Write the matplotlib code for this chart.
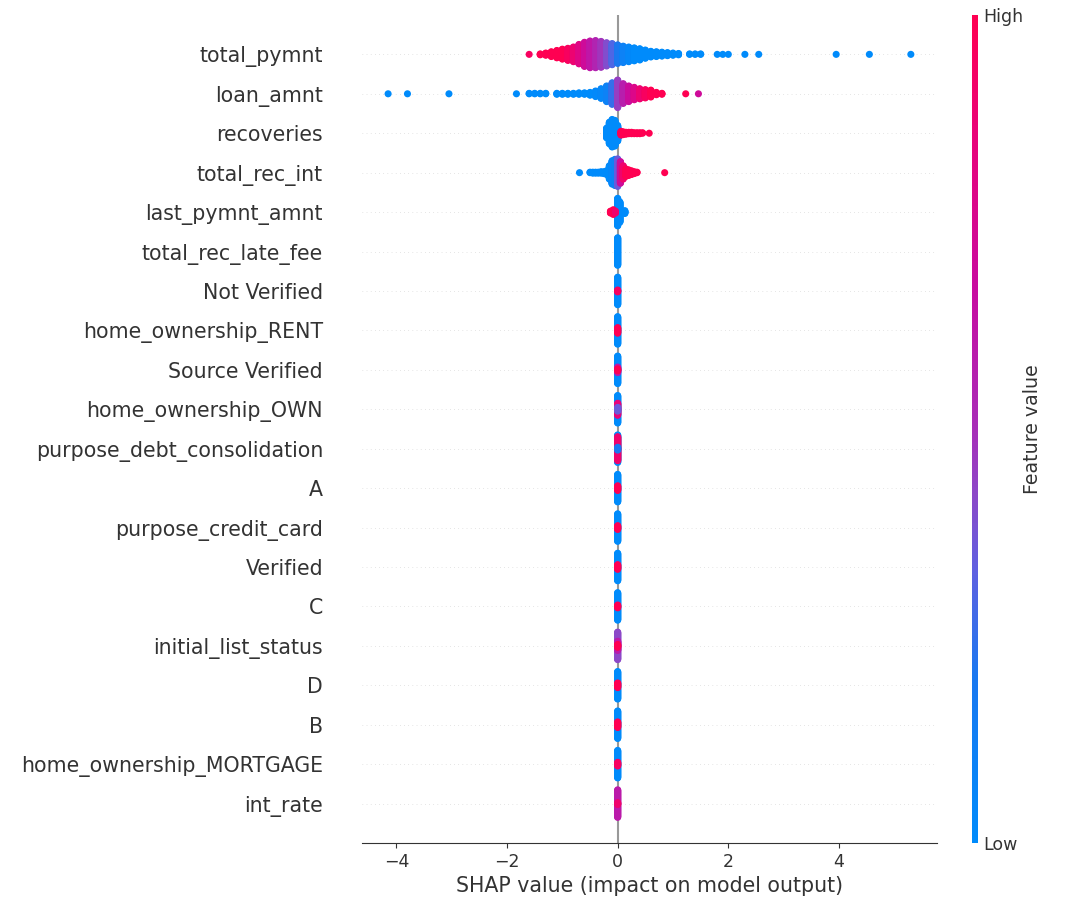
import numpy as np
import matplotlib
matplotlib.use('Agg')
import matplotlib.pyplot as plt
from matplotlib.colors import LinearSegmentedColormap
from matplotlib.cm import ScalarMappable

features = ['total_pymnt', 'loan_amnt', 'recoveries', 'total_rec_int', 'last_pymnt_amnt',
            'total_rec_late_fee', 'Not Verified', 'home_ownership_RENT', 'Source Verified',
            'home_ownership_OWN', 'purpose_debt_consolidation', 'A', 'purpose_credit_card',
            'Verified', 'C', 'initial_list_status', 'D', 'B', 'home_ownership_MORTGAGE', 'int_rate']

# binned SHAP values: bin centre, number of points, feature value (0 low .. 1 high)
total_pymnt_x = [-1.6, -1.4, -1.3, -1.2, -1.1, -1.0, -0.9, -0.8, -0.7, -0.6, -0.5, -0.4, -0.3, -0.2,
                 -0.1, 0.0, 0.1, 0.2, 0.3, 0.4, 0.5, 0.6, 0.7, 0.8, 0.9, 1.0, 1.1,
                 1.3, 1.4, 1.5, 1.8, 1.9, 2.0, 2.3, 2.55, 3.95, 4.55, 5.3]
total_pymnt_n = [1, 3, 6, 12, 18, 24, 29, 35, 46, 57, 63, 64, 61, 55,
                 50, 44, 39, 35, 31, 27, 20, 14, 12, 10, 8, 6, 4,
                 2, 2, 2, 1, 1, 1, 1, 1, 1, 1, 1]
total_pymnt_c = [0.95, 1.0, 1.0, 1.0, 1.0, 1.0, 0.95, 0.88, 0.8, 0.7, 0.62, 0.55, 0.48, 0.4,
                 0.3, 0.2, 0.1, 0.04, 0.0, 0.0, 0.0, 0.0, 0.0, 0.0, 0.0, 0.0, 0.0,
                 0.0, 0.0, 0.0, 0.0, 0.0, 0.0, 0.0, 0.0, 0.0, 0.0, 0.0]

loan_amnt_x = [-4.15, -3.8, -3.05, -1.83, -1.6, -1.5, -1.4, -1.3,
               -1.1, -1.0, -0.9, -0.8, -0.7, -0.6, -0.5, -0.4, -0.3, -0.2, -0.1, 0.0,
               0.1, 0.2, 0.3, 0.4, 0.5, 0.6, 0.7, 0.8, 1.23, 1.46]
loan_amnt_n = [1, 1, 1, 1, 2, 2, 2, 2,
               3, 3, 3, 3, 4, 4, 7, 13, 22, 35, 48, 61,
               44, 35, 28, 23, 19, 16, 6, 3, 1, 1]
loan_amnt_c = [0.0, 0.0, 0.0, 0.0, 0.0, 0.0, 0.0, 0.0,
               0.0, 0.0, 0.0, 0.0, 0.0, 0.0, 0.0, 0.02, 0.05, 0.1, 0.25, 0.45,
               0.58, 0.68, 0.78, 0.88, 0.95, 1.0, 1.0, 1.0, 1.0, 0.7]

recoveries_x = [-0.2, -0.15, -0.1, -0.05, 0.0, 0.03, 0.06, 0.1, 0.15, 0.2, 0.25, 0.3, 0.35, 0.4, 0.45, 0.57]
recoveries_n = [22, 48, 61, 57, 35, 13, 9, 7, 5, 4, 4, 3, 3, 3, 2, 1]
recoveries_c = [0.0, 0.0, 0.0, 0.0, 0.0, 0.0, 1.0, 1.0, 1.0, 1.0, 1.0, 1.0, 1.0, 1.0, 1.0, 1.0]

total_rec_int_x = [-0.69, -0.5, -0.45, -0.4, -0.35, -0.3, -0.25, -0.2, -0.15, -0.1,
                   -0.05, 0.0, 0.05, 0.1, 0.15, 0.2, 0.25, 0.3, 0.35, 0.85]
total_rec_int_n = [1, 2, 3, 3, 3, 4, 5, 9, 30, 52, 58, 61, 48, 30, 17, 13, 9, 5, 2, 1]
total_rec_int_c = [0.0, 0.0, 0.0, 0.0, 0.0, 0.0, 0.0, 0.0, 0.0, 0.05,
                   0.1, 0.35, 0.7, 0.9, 1.0, 1.0, 1.0, 1.0, 1.0, 1.0]

last_pymnt_amnt_x = [0.0, 0.04, 0.13, -0.13, -0.08, -0.04]
last_pymnt_amnt_n = [61, 45, 7, 5, 11, 5]
last_pymnt_amnt_c = [0.0, 0.0, 0.0, 1.0, 1.0, 0.9]

# the remaining features all sit at a SHAP value of ~0: point groups drawn in order
near_zero = 0.0
flat_n = [[61], [61, 5], [61, 13], [61, 13, 5], [61, 27, 9], [61, 53, 7], [61, 11],
          [61, 9], [61, 11], [61, 7], [61, 21, 7], [61, 11], [61, 13], [61, 9], [61, 5]]
flat_c = [[0.0], [0.0, 0.95], [0.0, 1.0], [0.0, 0.6, 1.0], [0.0, 0.85, 0.35], [0.0, 0.9, 0.2],
          [0.0, 1.0], [0.0, 1.0], [0.0, 1.0], [0.0, 1.0], [0.42, 0.6, 1.0], [0.0, 1.0],
          [0.0, 1.0], [0.0, 0.95], [0.6, 0.9]]

binned = [(total_pymnt_x, total_pymnt_n, total_pymnt_c),
          (loan_amnt_x, loan_amnt_n, loan_amnt_c),
          (recoveries_x, recoveries_n, recoveries_c),
          (total_rec_int_x, total_rec_int_n, total_rec_int_c),
          (last_pymnt_amnt_x, last_pymnt_amnt_n, last_pymnt_amnt_c)]
for n, c in zip(flat_n, flat_c):
    binned.append(([near_zero] * len(n), n, c))

cmap = LinearSegmentedColormap.from_list('red_blue', [
    (0.0, '#008bfb'), (0.2, '#1a78f0'), (0.33, '#6060e0'), (0.42, '#8c48c8'),
    (0.5, '#a82eb8'), (0.67, '#c80ca0'), (0.85, '#e8047a'), (1.0, '#ff0052')])

axis_color = '#333333'
fig = plt.figure(figsize=(10.76, 9.10), dpi=100)
ax = fig.add_axes([0.3364, 0.0736, 0.5344, 0.91])

n_feat = len(features)
row_height = 0.4
for i, (xs, ns, cs) in enumerate(binned):
    pos = n_feat - 1 - i
    ax.axhline(y=pos, color='#cccccc', lw=0.5, dashes=(1, 5), zorder=-1)
    px, py, pc = [], [], []
    for x, n, c in zip(xs, ns, cs):
        for layer in range(n):
            px.append(x)
            py.append(np.ceil(layer / 2) * ((layer % 2) * 2 - 1))
            pc.append(c)
    py = np.array(py)
    py *= 0.9 * (row_height / np.max(py + 1))
    ax.scatter(px, pos + py, c=pc, cmap=cmap, vmin=0, vmax=1, s=26, linewidth=0, alpha=1, zorder=3)

ax.axvline(x=0, color='#999999', zorder=-1)

ax.set_yticks(range(n_feat))
ax.set_yticklabels(features[::-1], fontsize=14.8)
ax.set_ylim(-1, n_feat)
ax.xaxis.set_ticks_position('bottom')
ax.yaxis.set_ticks_position('none')
ax.tick_params('y', length=0, pad=28)
ax.tick_params(color=axis_color, labelcolor=axis_color)
ax.tick_params('x', labelsize=12.5)
for side in ['right', 'top', 'left']:
    ax.spines[side].set_visible(False)
ax.spines['bottom'].set_color(axis_color)
ax.set_xlabel('SHAP value (impact on model output)', fontsize=14.8, color=axis_color)

cax = fig.add_axes([0.9033, 0.0736, 0.0056, 0.91])
sm = ScalarMappable(cmap=cmap)
sm.set_array([0, 1])
cb = fig.colorbar(sm, cax=cax, ticks=[0, 1])
cb.set_ticklabels(['Low', 'High'])
cb.set_label('Feature value', size=13.7, labelpad=0, color=axis_color)
cb.ax.tick_params(labelsize=12.5, length=0, labelcolor=axis_color)
cb.outline.set_visible(False)

fig.savefig('out.png', dpi=100)
